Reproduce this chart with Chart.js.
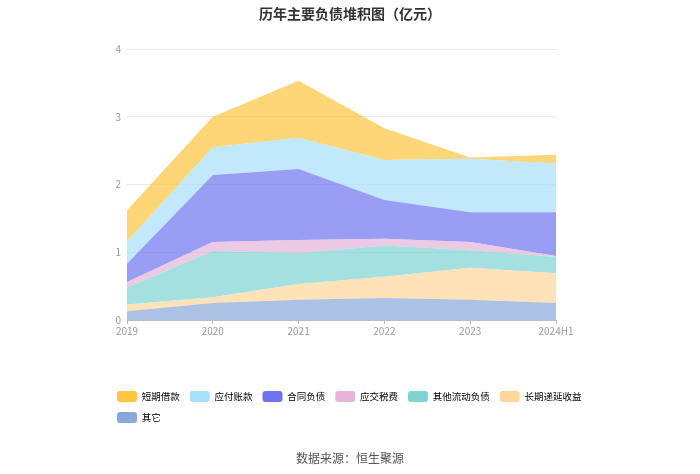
<!DOCTYPE html>
<html>
<head>
<meta charset="utf-8">
<script src="https://cdn.jsdelivr.net/npm/chart.js@4.4.1/dist/chart.umd.min.js"></script>
<style>
html,body{margin:0;padding:0;background:#fff;}
#wrap{position:relative;width:700px;height:474px;}
#title{position:absolute;left:0;width:700px;top:3px;text-align:center;font:bold 14px "Noto Sans CJK SC",sans-serif;color:#333;line-height:20px;}
#src{position:absolute;left:0;width:700px;top:449px;text-align:center;font:12px "Noto Sans CJK SC",sans-serif;color:#555;}
</style>
</head>
<body>
<div id="wrap"><canvas id="c" width="700" height="474"></canvas><div id="title">历年主要负债堆积图（亿元）</div><div id="src">数据来源：恒生聚源</div></div>
<script>
const categories = ['2019', '2020', '2021', '2022', '2023', '2024H1'];
const qita = [0.13, 0.25, 0.30, 0.325, 0.30, 0.25];
const changqiDiyan = [0.10, 0.085, 0.23, 0.315, 0.47, 0.44];
const qitaLiudong = [0.25, 0.685, 0.46, 0.46, 0.26, 0.24];
const yingjiaoShuifei = [0.08, 0.13, 0.19, 0.10, 0.12, 0.015];
const hetongFuzhai = [0.27, 0.99, 1.05, 0.57, 0.44, 0.645];
const yingfuZhangkuan = [0.33, 0.41, 0.46, 0.59, 0.79, 0.72];
const duanqiJiekuan = [0.46, 0.45, 0.84, 0.47, 0.02, 0.13];
const yTicks = [0, 1, 2, 3, 4];

const FONT = '"Noto Sans CJK SC", sans-serif';
function rgba(hex, a){const n=parseInt(hex.slice(1),16);return `rgba(${n>>16},${(n>>8)&255},${n&255},${a})`;}
const series = [
  ['其它', qita, '#88A8DA'],
  ['长期递延收益', changqiDiyan, '#FFD79A'],
  ['其他流动负债', qitaLiudong, '#7ED3D3'],
  ['应交税费', yingjiaoShuifei, '#E6B3D9'],
  ['合同负债', hetongFuzhai, '#6F73F0'],
  ['应付账款', yingfuZhangkuan, '#A7E0FA'],
  ['短期借款', duanqiJiekuan, '#FFC53D']
];
const datasets = series.map((s, i) => ({
  label: s[0], data: s[1],
  backgroundColor: rgba(s[2], 0.7),
  legendColor: s[2],
  borderColor: 'rgba(0,0,0,0)', borderWidth: 0,
  pointRadius: 0, pointHoverRadius: 0, tension: 0,
  fill: i === 0 ? 'origin' : '-1'
}));

new Chart(document.getElementById('c'), {
  type: 'line',
  data: { labels: categories, datasets },
  options: {
    responsive: false, animation: false,
    layout: { padding: { left: 107, right: 70, top: 49, bottom: 41 } },
    plugins: {
      tooltip: { enabled: false },
      title: { display: false },
      legend: {
        position: 'bottom', align: 'start', reverse: true,
        labels: {
          boxWidth: 20, boxHeight: 11, padding: 10, color: '#555',
          font: { family: FONT, size: 9.5 },
          generateLabels(chart) {
            return chart.data.datasets.map((d, i) => ({
              text: d.label, fillStyle: d.legendColor, strokeStyle: d.legendColor,
              lineWidth: 0, borderRadius: 3, datasetIndex: i, hidden: false
            }));
          }
        }
      }
    },
    scales: {
      x: {
        offset: false,
        grid: { drawOnChartArea: false, drawTicks: true, tickLength: 4, color: '#bbb' },
        border: { display: true, color: '#bbb' },
        ticks: { color: '#999', font: { family: FONT, size: 10 }, padding: 1, maxRotation: 0 },
        afterFit: s => { s.height = 61; }
      },
      y: {
        stacked: true, min: 0, max: 4,
        afterBuildTicks: s => { s.ticks = yTicks.map(v => ({ value: v })); },
        grid: { color: '#e8e8e8', drawTicks: false },
        border: { display: false },
        ticks: { color: '#999', font: { family: FONT, size: 10 }, padding: 6 },
        afterFit: s => { s.width = 20; }
      },
      y2: {
        position: 'right', display: true,
        grid: { display: false }, border: { display: false },
        ticks: { display: false },
        afterFit: s => { s.width = 74; }
      }
    }
  }
});
</script>
</body>
</html>
